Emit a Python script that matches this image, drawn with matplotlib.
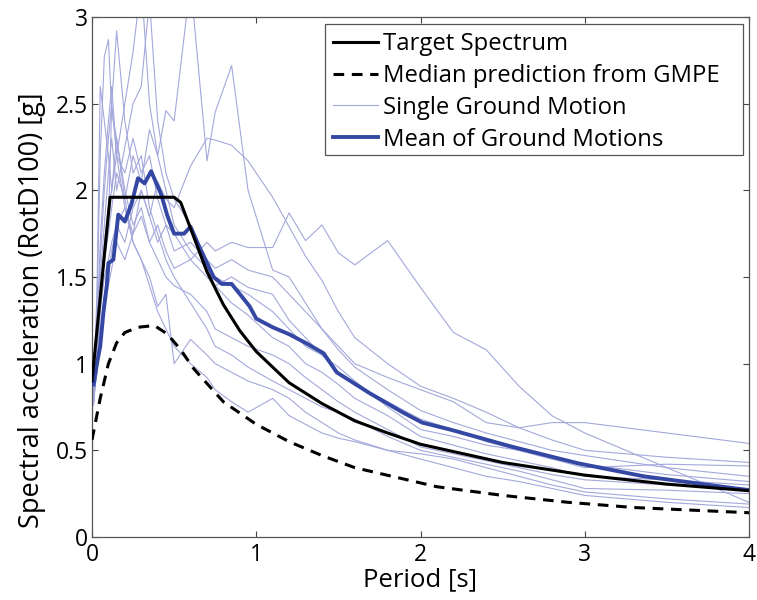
import numpy as np
import matplotlib
matplotlib.use('Agg')
from matplotlib import pyplot as plt
from matplotlib.patches import Rectangle

plt.rcParams['font.family'] = ['Open Sans', 'DejaVu Sans']

# periods used by the individual ground motion spectra
periods = [0.01, 0.03, 0.05, 0.075, 0.1, 0.12, 0.15, 0.2, 0.25, 0.3, 0.35, 0.4, 0.45, 0.5,
           0.6, 0.7, 0.75, 0.85, 0.95, 1.1, 1.2, 1.3, 1.4, 1.5, 1.6, 1.8, 2.0, 2.2, 2.4, 2.6,
           2.8, 3.0, 3.5, 4.0]

gm01 = [0.82, 0.95, 1.15, 1.4, 1.5, 1.65, 1.8, 1.7, 1.9, 2.0, 1.85, 2.05, 1.95, 1.9, 2.14, 2.3, 2.29,
        2.26, 2.17, 1.96, 1.79, 1.62, 1.48, 1.3, 1.15, 1.0, 0.87, 0.8, 0.72, 0.63, 0.56, 0.50, 0.46, 0.43]
gm02 = [0.8, 1.0, 1.35, 1.6, 1.75, 1.9, 2.1, 1.95, 2.2, 2.05, 2.35, 2.2, 2.46, 2.4, 3.2, 2.17, 2.45,
        2.72, 2.0, 1.54, 1.5, 1.35, 1.2, 1.08, 0.98, 0.85, 0.73, 0.66, 0.6, 0.55, 0.5, 0.47, 0.4, 0.35]
gm03 = [0.78, 1.3, 2.2, 2.77, 2.87, 2.45, 2.3, 1.95, 1.7, 1.6, 1.45, 1.3, 1.2, 1.1, 1.0, 0.92, 0.85,
        0.78, 0.72, 0.8, 0.7, 0.65, 0.6, 0.57, 0.55, 0.5, 0.45, 0.4, 0.35, 0.32, 0.28, 0.24, 0.2, 0.17]
gm04 = [0.8, 1.1, 1.6, 2.0, 2.3, 2.5, 2.92, 2.4, 2.1, 2.2, 1.9, 1.75, 1.6, 1.5, 1.35, 1.2, 1.1,
        1.05, 0.98, 0.9, 0.85, 0.8, 0.75, 0.72, 0.68, 0.58, 0.5, 0.46, 0.42, 0.38, 0.33, 0.28, 0.27, 0.25]
gm05 = [0.85, 1.2, 1.7, 2.1, 2.4, 2.6, 2.2, 2.5, 2.8, 3.2, 2.5, 2.2, 2.0, 1.8, 1.65, 1.55, 1.45,
        1.35, 1.28, 1.15, 1.1, 1.0, 0.95, 0.88, 0.8, 0.7, 0.58, 0.53, 0.48, 0.44, 0.4, 0.35, 0.33, 0.30]
gm06 = [0.8, 1.1, 1.5, 1.8, 2.1, 2.3, 2.0, 2.25, 2.5, 2.6, 3.1, 2.4, 2.1, 1.95, 1.8, 1.6, 1.5,
        1.45, 1.4, 1.3, 1.2, 1.1, 1.05, 0.98, 0.9, 0.75, 0.62, 0.58, 0.53, 0.5, 0.45, 0.40, 0.42, 0.41]
gm07 = [0.78, 1.0, 1.3, 1.5, 1.6, 1.7, 1.8, 1.9, 1.75, 2.0, 1.85, 1.7, 1.8, 1.65, 1.7, 1.6, 1.55,
        1.6, 1.54, 1.5, 1.4, 1.3, 1.2, 1.1, 1.0, 0.92, 0.85, 0.78, 0.66, 0.63, 0.66, 0.66, 0.6, 0.54]
gm08 = [0.82, 1.05, 1.4, 1.7, 1.9, 2.0, 2.2, 2.1, 2.3, 2.1, 2.2, 1.95, 1.8, 1.75, 1.6, 1.5, 1.45,
        1.5, 1.44, 1.4, 1.25, 1.15, 1.05, 0.95, 0.88, 0.78, 0.68, 0.62, 0.55, 0.5, 0.45, 0.42, 0.36, 0.32]
gm09 = [0.8, 0.95, 1.2, 1.35, 1.45, 1.55, 1.7, 1.6, 1.75, 1.85, 1.7, 1.8, 1.65, 1.55, 1.6, 1.7, 1.65,
        1.7, 1.67, 1.67, 1.87, 1.71, 1.8, 1.64, 1.57, 1.71, 1.44, 1.18, 1.08, 0.87, 0.70, 0.6, 0.4, 0.2]
gm10 = [0.85, 1.4, 2.6, 2.4, 2.2, 2.0, 2.3, 2.0, 1.8, 1.9, 1.7, 1.6, 1.5, 1.45, 1.4, 1.3, 1.2,
        1.15, 1.1, 1.05, 1.0, 0.92, 0.85, 0.78, 0.72, 0.62, 0.52, 0.48, 0.44, 0.4, 0.36, 0.33, 0.3, 0.28]
gm11 = [0.76, 1.0, 1.3, 1.6, 1.8, 2.5, 2.2, 1.9, 1.7, 1.6, 1.5, 1.33, 1.4, 1.0, 1.14, 1.05, 1.0,
        0.95, 0.9, 0.85, 0.8, 0.72, 0.66, 0.6, 0.56, 0.5, 0.48, 0.45, 0.4, 0.35, 0.3, 0.26, 0.22, 0.19]
ground_motions = [gm01, gm02, gm03, gm04, gm05, gm06, gm07, gm08, gm09, gm10, gm11]

# mean of the ground motions
mean_T = [0.01, 0.03, 0.05, 0.07, 0.09, 0.1, 0.13, 0.16, 0.2, 0.24, 0.28, 0.32, 0.36, 0.42, 0.46,
          0.5, 0.56, 0.6, 0.65, 0.74, 0.79, 0.85, 0.91, 0.96, 1.0, 1.1, 1.2, 1.3, 1.41, 1.49,
          1.69, 1.89, 2.01, 2.18, 2.56, 2.96, 3.36, 3.6, 4.0]
mean_sa = [0.88, 1.0, 1.1, 1.3, 1.45, 1.58, 1.6, 1.86, 1.82, 1.92, 2.07, 2.04, 2.11, 1.98, 1.85,
           1.75, 1.75, 1.79, 1.68, 1.5, 1.46, 1.46, 1.39, 1.33, 1.26, 1.21, 1.17, 1.12, 1.06, 0.95,
           0.83, 0.72, 0.66, 0.62, 0.52, 0.425, 0.35, 0.32, 0.27]

# target spectrum
target_T = [0.0, 0.11, 0.5, 0.54, 0.6, 0.7, 0.8, 0.9, 1.0, 1.2, 1.4, 1.6, 1.8, 2.0, 2.5, 3.0, 3.5, 4.0]
target_sa = [0.9, 1.96, 1.96, 1.93, 1.78, 1.53, 1.34, 1.19, 1.07, 0.89, 0.77, 0.67, 0.6, 0.535,
             0.43, 0.357, 0.305, 0.267]

# median prediction from GMPE
gmpe_T = [0.0, 0.05, 0.1, 0.15, 0.2, 0.28, 0.38, 0.46, 0.54, 0.62, 0.8, 1.0, 1.2, 1.4, 1.6,
          2.1, 2.5, 2.9, 3.3, 4.0]
gmpe_sa = [0.56, 0.8, 1.0, 1.12, 1.18, 1.21, 1.22, 1.17, 1.08, 0.97, 0.78, 0.65, 0.55, 0.47,
           0.40, 0.29, 0.24, 0.2, 0.17, 0.14]

thin_color = '#a3a8db'
mean_color = '#3347a3'

fig = plt.figure(figsize=(7.57, 6.0), dpi=100)
ax = fig.add_axes([92/757, 63/600, 657/757, 520/600])

h_target, = ax.plot(target_T, target_sa, color='k', lw=2.2, label='Target Spectrum', zorder=4)
h_gmpe, = ax.plot(gmpe_T, gmpe_sa, color='k', lw=2.2, ls=(0, (3.5, 2.5)),
                  label='Median prediction from GMPE', zorder=4)
gm_lines = []
for gm in ground_motions:
    ln, = ax.plot(periods, gm, color=thin_color, lw=0.8, zorder=2)
    gm_lines.append(ln)
gm_lines[0].set_label('Single Ground Motion')
h_mean, = ax.plot(mean_T, mean_sa, color=mean_color, lw=2.8, label='Mean of Ground Motions', zorder=3)

ax.set_xlim(0, 4)
ax.set_ylim(0, 3)
ax.set_xticks([0, 1, 2, 3, 4])
ax.set_yticks([0, 0.5, 1, 1.5, 2, 2.5, 3])
ax.set_yticklabels(['0', '0.5', '1', '1.5', '2', '2.5', '3'])
ax.tick_params(direction='in', length=4, width=0.8, top=True, right=True,
               labelsize=16.5, colors='#444444', labelcolor='k')
ax.tick_params(axis='x', pad=4)
ax.tick_params(axis='y', pad=3)
for s in ax.spines.values():
    s.set_color('#555555')
    s.set_linewidth(0.9)

ax.set_xlabel('Period [s]', fontsize=18.5, va='top')
ax.xaxis.set_label_coords(0.5, -0.058)
ax.set_ylabel('Spectral acceleration (RotD100) [g]', fontsize=19.5)
ax.yaxis.set_label_coords(-0.07, 0.437)

# legend box drawn separately (MATLAB style: extra room on the right)
box = Rectangle((0.3546, 0.7346), 0.6363, 0.2519, transform=ax.transAxes, facecolor='white',
                edgecolor='#555555', lw=0.9, zorder=5)
ax.add_patch(box)
leg = ax.legend(handles=[h_target, h_gmpe, gm_lines[0], h_mean], loc='upper left',
                bbox_to_anchor=(0.3668, 0.971), borderaxespad=0, borderpad=0, fontsize=17.2,
                frameon=False, handlelength=1.9, handletextpad=0.2, labelspacing=0.33)
leg.set_zorder(6)

fig.savefig('out.png', dpi=100)
